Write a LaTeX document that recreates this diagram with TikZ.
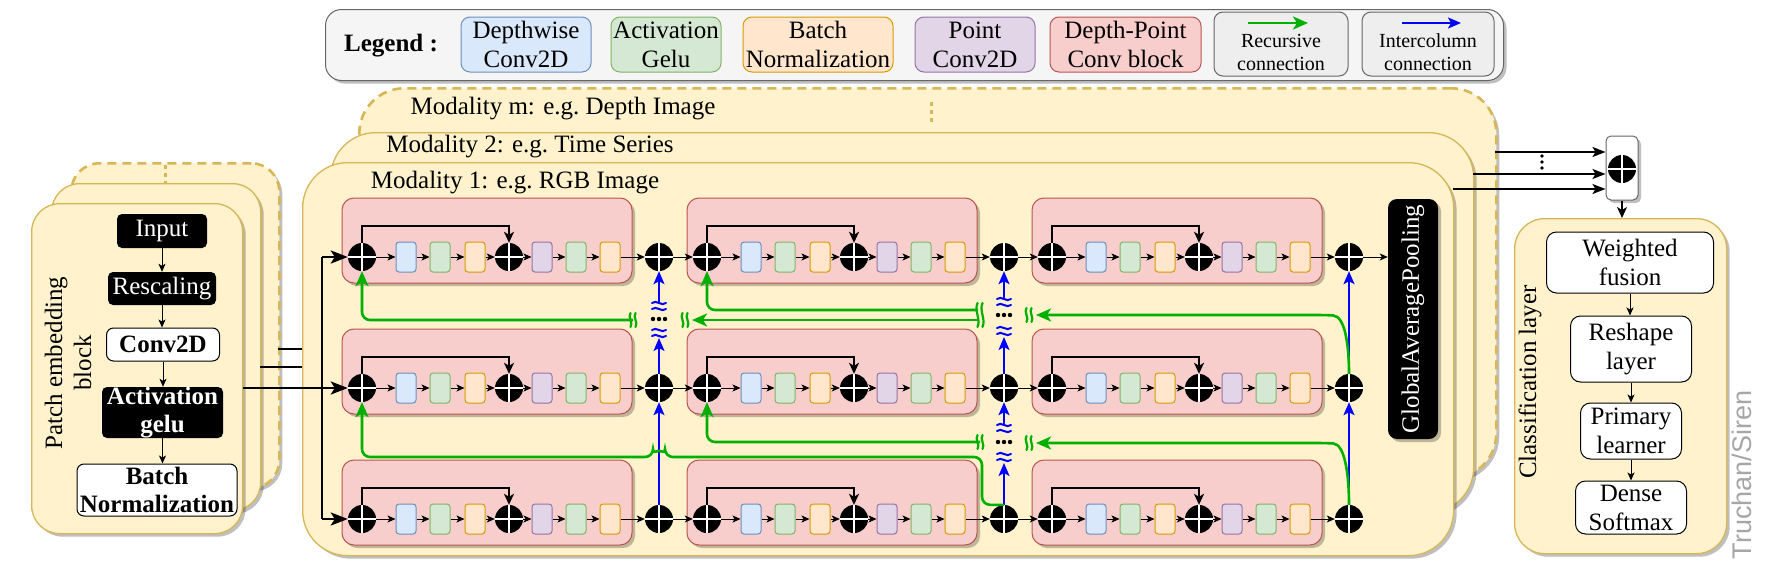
\documentclass[tikz,border=0pt]{standalone}
\usepackage{fontspec}
\setmainfont{Liberation Serif}
\newfontfamily\wmfont{Liberation Sans}
\usetikzlibrary{arrows.meta,shadows}

\definecolor{ctrfill}{HTML}{FFF2CC}
\definecolor{ctrline}{HTML}{D6B656}
\definecolor{pkfill}{HTML}{F8CECC}
\definecolor{pkline}{HTML}{B85450}
\definecolor{dwfill}{HTML}{DAE8FC}
\definecolor{dwline}{HTML}{6C8EBF}
\definecolor{acfill}{HTML}{D5E8D4}
\definecolor{acline}{HTML}{82B366}
\definecolor{bnfill}{HTML}{FFE6CC}
\definecolor{bnline}{HTML}{D79B00}
\definecolor{pwfill}{HTML}{E1D5E7}
\definecolor{pwline}{HTML}{9673A6}
\definecolor{lgfill}{HTML}{F5F5F5}
\definecolor{lgline}{HTML}{666666}
\definecolor{itfill}{HTML}{EEEEEE}
\definecolor{recgreen}{RGB}{0,176,0}
\definecolor{colblue}{RGB}{0,0,255}
\definecolor{wmgrey}{HTML}{A6A6A6}

\newcommand{\txtbig}{\fontsize{25}{29}\selectfont}
\newcommand{\txtsm}{\fontsize{20}{23}\selectfont}

\tikzset{
  shd/.style={drop shadow={shadow xshift=3pt,shadow yshift=-3pt,opacity=.25,fill=black}},
  ctr/.style={draw=ctrline, fill=ctrfill, line width=1.3pt, rounded corners=40pt, anchor=north west, inner sep=0pt, shd},
  dsh/.style={dash pattern=on 9pt off 6pt, line width=2.6pt},
  lgbox/.style={draw=lgline, fill=lgfill, line width=1pt, rounded corners=16pt, anchor=north west, inner sep=0pt, shd},
  itm/.style={rounded corners=9pt, line width=1pt, align=center, inner sep=0pt, minimum height=55pt},
  pkblk/.style={draw=pkline, fill=pkfill, line width=1pt, rounded corners=12pt, inner sep=0pt, minimum width=290pt, minimum height=85pt, shd},
  cell/.style={rounded corners=3pt, line width=1pt, inner sep=0pt, minimum width=20pt, minimum height=30pt},
  dwbox/.style={cell, draw=dwline, fill=dwfill},
  acbox/.style={cell, draw=acline, fill=acfill},
  bnbox/.style={cell, draw=bnline, fill=bnfill},
  pwbox/.style={cell, draw=pwline, fill=pwfill},
  adder/.style={circle, fill=black, minimum size=28pt, inner sep=0pt,
    path picture={\draw[white, line width=2.4pt] (path picture bounding box.north) -- (path picture bounding box.south)
      (path picture bounding box.west) -- (path picture bounding box.east);}},
  blkbox/.style={fill=black, text=white, rounded corners=5pt, inner sep=0pt, align=center},
  whtbox/.style={draw=black, fill=white, line width=1pt, rounded corners=7pt, inner sep=0pt, align=center},
  clsbox/.style={draw=black, fill=white, line width=1pt, rounded corners=10pt, inner sep=0pt, align=center},
  flow/.style={-{Stealth[length=8pt,width=7pt,inset=2pt]}, line width=0.9pt},
  skp/.style={-{Stealth[length=11pt,width=10pt,inset=3pt]}, line width=1.8pt},
  ent/.style={-{Stealth[length=17pt,width=13pt,inset=4pt]}, line width=2.8pt},
  bus/.style={line width=2.8pt},
  outarr/.style={-{Stealth[length=13pt,width=10pt,inset=3pt]}, line width=1.8pt},
  cbl/.style={colblue, line width=2pt, -{Stealth[length=13pt,width=11pt,inset=3pt]}},
  cgr/.style={recgreen, line width=2.6pt, rounded corners=8pt, -{Stealth[length=15pt,width=13pt,inset=4pt]}},
  brk/.pic={\draw[colblue, line width=2pt, line cap=round] (-7,-3) .. controls (-3,-7) and (3,1) .. (7,-3)
    (-7,3) .. controls (-3,-1) and (3,7) .. (7,3);},
  gbrk/.pic={\draw[recgreen, line width=2.2pt, line cap=round] (-2.5,-7) .. controls (-5.5,-3) and (0.5,3) .. (-2.5,7)
    (2.5,-7) .. controls (-0.5,-3) and (5.5,3) .. (2.5,7);},
  gbrkl/.pic={\draw[recgreen, line width=2.2pt, line cap=round] (-2.5,-12) .. controls (-6,-4) and (1,4) .. (-2.5,12)
    (2.5,-12) .. controls (-1,-4) and (6,4) .. (2.5,12);},
  ell/.pic={\foreach \d in {-6,0,6} \fill (\d,0) circle (2.2);},
  vell/.pic={\foreach \d in {-6,0,6} \fill (0,\d) circle (1.8);}
}

\begin{document}
\begin{tikzpicture}[x=1pt,y=-1pt,font=\txtbig]
\useasboundingbox (0,0) rectangle (1775,562);

% legend
\node[lgbox, minimum width=1178pt, minimum height=71pt] (lg) at (325,9) {};
\node[font=\txtbig\bfseries] (lgt) at (391,46) {Legend :};
\node[itm, draw=dwline, fill=dwfill, minimum width=130pt] (lgdw) at (526,44.5) {Depthwise\\Conv2D};
\node[itm, draw=acline, fill=acfill, minimum width=110pt] (lgac) at (666,44.5) {Activation\\Gelu};
\node[itm, draw=bnline, fill=bnfill, minimum width=150pt] (lgbn) at (818,44.5) {Batch\\Normalization};
\node[itm, draw=pwline, fill=pwfill, minimum width=120pt] (lgpw) at (975,44.5) {Point\\Conv2D};
\node[itm, draw=pkline, fill=pkfill, minimum width=151pt] (lgdp) at (1125.5,44.5) {Depth-Point\\Conv block};
\node[itm, draw=lgline, fill=itfill, minimum width=134pt, minimum height=64pt] (lgrc) at (1281,44) {};
\node[font=\txtsm, align=center] (lgrct) at (1281,52) {Recursive\\connection};
\draw[cgr] ([xshift=-33pt,yshift=21pt]lgrc.center) -- ([xshift=27pt,yshift=21pt]lgrc.center);
\node[itm, draw=lgline, fill=itfill, minimum width=132pt, minimum height=64pt] (lgic) at (1428,44) {};
\node[font=\txtsm, align=center] (lgict) at (1428,52) {Intercolumn\\connection};
\draw[cbl] ([xshift=-26pt,yshift=21pt]lgic.center) -- ([xshift=33pt,yshift=21pt]lgic.center);

% modality stack
\node[ctr, dsh, minimum width=1137pt, minimum height=390pt, rounded corners=45pt] (modm) at (358,87) {};
\draw[ctrline, line width=3pt, dash pattern=on 4pt off 4pt] (931,102) -- (931,124);
\node (modmt) at (563,109) {Modality m: e.g.\ Depth Image};
\node[ctr, minimum width=1143pt, minimum height=380pt, rounded corners=45pt] (mod2) at (330,132) {};
\node (mod2t) at (530,147) {Modality 2: e.g.\ Time Series};
\node[ctr, minimum width=1151pt, minimum height=393pt, rounded corners=45pt] (mod1) at (302,162) {};
\node (mod1t) at (515,183) {Modality 1: e.g.\ RGB Image};

% patch embedding stack
\node[ctr, dsh, minimum width=208pt, minimum height=325pt, rounded corners=28pt] (pe3) at (70,162) {};
\draw[ctrline, line width=3pt, dash pattern=on 4pt off 4pt] (165,165) -- (165,183);
\node[ctr, minimum width=209pt, minimum height=327pt, rounded corners=28pt] (pe2) at (51,183) {};
\node[ctr, minimum width=211pt, minimum height=330pt, rounded corners=28pt] (pe1) at (31,203) {};
\node[rotate=90, align=center] (pelab) at (68,363) {Patch embedding\\block};
\node[blkbox, minimum width=90pt, minimum height=34pt] (inp) at (162,231) {Input};
\node[blkbox, minimum width=108pt, minimum height=33pt] (resc) at (162,288.5) {Rescaling};
\node[whtbox, font=\txtbig\bfseries, minimum width=113pt, minimum height=33pt] (conv) at (163,344.5) {Conv2D};
\node[blkbox, font=\fontsize{25}{28}\selectfont\bfseries, minimum width=121pt, minimum height=51pt] (actg) at (162.5,412.5) {Activation\\gelu};
\node[whtbox, font=\fontsize{25}{28}\selectfont\bfseries, minimum width=160pt, minimum height=52pt] (bnorm) at (157,490) {Batch\\Normalization};
\draw[flow] (inp) -- (resc);
\draw[flow] (resc) -- (resc |- conv.north);
\draw[flow] (conv) -- (conv |- actg.north);
\draw[flow] (actg) -- (actg |- bnorm.north);

\coordinate (l3) at (278,349);
\coordinate (l2) at (260,367);
\draw[bus] (l3) -- (l3 -| mod1.west);
\draw[bus] (l2) -- (l2 -| mod1.west);

% depth-point blocks
\foreach \r/\yy in {1/257,2/388,3/519}{
  \foreach \c in {1,2,3}{
    \pgfmathsetmacro{\xx}{362+345*(\c-1)}
    \node[pkblk] (p\r\c) at (\xx+125,\yy-16.5) {};
    \node[adder] (a\r\c) at (\xx,\yy) {};
    \node[dwbox] (d\r\c) at (\xx+44,\yy) {};
    \node[acbox] (g\r\c) at (\xx+78,\yy) {};
    \node[bnbox] (n\r\c) at (\xx+113,\yy) {};
    \node[adder] (m\r\c) at (\xx+147,\yy) {};
    \node[pwbox] (w\r\c) at (\xx+180,\yy) {};
    \node[acbox] (h\r\c) at (\xx+214,\yy) {};
    \node[bnbox] (o\r\c) at (\xx+248,\yy) {};
    \node[adder] (s\r\c) at (\xx+297,\yy) {};
    \draw[flow] (a\r\c) -- (d\r\c);
    \draw[flow] (d\r\c) -- (g\r\c);
    \draw[flow] (g\r\c) -- (n\r\c);
    \draw[flow] (n\r\c) -- (m\r\c);
    \draw[flow] (m\r\c) -- (w\r\c);
    \draw[flow] (w\r\c) -- (h\r\c);
    \draw[flow] (h\r\c) -- (o\r\c);
    \draw[flow] (o\r\c) -- (s\r\c);
    \draw[skp] (a\r\c.north) -- ++(0,-17) -| (m\r\c.north);
  }
  \draw[flow] (s\r1) -- (a\r2);
  \draw[flow] (s\r2) -- (a\r3);
}

% entry from patch block
\coordinate (jn) at (322,388);
\draw[ent] (pe1.east |- a21) -- (a21);
\draw[bus] (jn |- a11) -- (jn |- a31);
\draw[ent] (jn |- a11) -- (a11);
\draw[ent] (jn |- a31) -- (a31);

% pooling
\node[blkbox, rotate=90, rounded corners=9pt, minimum width=240pt, minimum height=50pt, shd] (gap) at (1413,319) {GlobalAveragePooling};
\draw[flow] (s13) -- (s13 -| gap.north);

% intercolumn connections
\coordinate (bl1) at (659,333);
\coordinate (bu1) at (659,306);
\draw[cbl] (s31) -- (s21);
\draw[cbl] (s21) -- ([yshift=-5pt]bl1);
\draw[cbl] ([yshift=3pt]bu1) -- (s11);
\pic at (bl1) {brk};
\pic at (bu1) {brk};
\pic at (659,319) {ell};
\coordinate (bl2) at (1004,331);
\coordinate (bu2) at (1004,302);
\draw[cbl] (s22) -- ([yshift=-6pt]bl2);
\draw[cbl] ([yshift=3pt]bu2) -- (s12);
\pic at (bl2) {brk};
\pic at (bu2) {brk};
\pic at (1004,315) {ell};
\coordinate (bl3) at (1004,457);
\coordinate (bu3) at (1004,428);
\draw[cbl] (s32) -- ([yshift=-6pt]bl3);
\draw[cbl] ([yshift=3pt]bu3) -- (s22);
\pic at (bl3) {brk};
\pic at (bu3) {brk};
\pic at (1004,442) {ell};
\draw[cbl] (s33) -- (s23);
\draw[cbl] (s23) -- (s13);

% recursive connections
\coordinate (r1) at (633,320);
\draw[cgr] (r1) -| (a11);
\pic at (r1) {gbrk};
\coordinate (r2) at (978,310);
\draw[cgr] (r2) -| (a12);
\coordinate (r3) at (978,320);
\coordinate (r3e) at (692,320);
\draw[cgr] (r3) -- (r3e);
\pic at (685,320) {gbrk};
\pic at (980,315) {gbrkl};
\coordinate (r4) at (1036,315);
\draw[cgr] (s23.north) .. controls (1349,345) and (1345,316) .. (1325,315) -- (r4);
\pic at (1029,315) {gbrk};
\draw[cgr] (s32.north) -| (982,457) -- (665,457) arc[start angle=0,end angle=-180,radius=6] -| (a21);
\coordinate (r6) at (980,442);
\draw[cgr] (r6) -| (a22);
\pic at (r6) {gbrk};
\coordinate (r7) at (1036,443);
\draw[cgr] (s33.north) .. controls (1349,475) and (1345,444) .. (1325,443) -- (r7);
\pic at (1029,443) {gbrk};

% fusion and classification
\node[draw=lgline, fill=white, line width=1pt, rounded corners=5pt, minimum width=32pt, minimum height=64pt, inner sep=0pt, shd] (comb) at (1622,168) {};
\node[adder] (fus) at (1622,169) {};
\coordinate (om) at (1495,152);
\coordinate (o2) at (1473,174);
\coordinate (o1) at (1453,189);
\draw[outarr] (om) -- (om -| comb.west);
\draw[outarr] (o2) -- (o2 -| comb.west);
\draw[outarr] (o1) -- (o1 -| comb.west);
\pic at (1542,162) {vell};
\node[ctr, rounded corners=30pt, minimum width=212pt, minimum height=335pt] (cls) at (1514,218) {};
\draw[skp, line width=1.5pt] (comb) -- (comb |- cls.north);
\node[rotate=90] (clst) at (1530,382) {Classification layer};
\node[clsbox, minimum width=167pt, minimum height=61pt] (wf) at (1630,262.5) {Weighted\\fusion};
\node[clsbox, minimum width=121pt, minimum height=66pt] (rs) at (1631,349) {Reshape\\layer};
\node[clsbox, minimum width=101pt, minimum height=56pt] (pl) at (1631,431) {Primary\\learner};
\node[clsbox, minimum width=111pt, minimum height=53pt] (ds) at (1631,507.5) {Dense\\Softmax};
\draw[flow] (wf) -- (wf |- rs.north);
\draw[flow] (rs) -- (pl);
\draw[flow] (pl) -- (ds);
\node[rotate=90, font=\wmfont\fontsize{27}{27}\selectfont, text=wmgrey] (wm) at (1742,475) {Truchan/Siren};
\end{tikzpicture}
\end{document}
